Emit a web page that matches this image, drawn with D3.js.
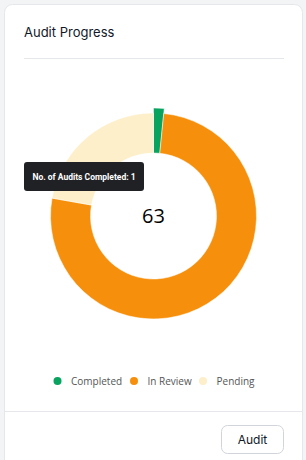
<!DOCTYPE html>
<html>
<head>
<meta charset="utf-8">
<script src="https://cdn.jsdelivr.net/npm/d3@7"></script>
<style>
	html, body { margin: 0; padding: 0; background: #f3f4f6; }
	svg { display: block; }
</style>
</head>
<body>
<script>
// chart data
const categories = ['Completed', 'In Review', 'Pending'];
const auditCounts = [1, 48, 14];
const sliceColors = ['#07a35f', '#f6900c', '#fdefca'];
const centerLabel = '63';
const tooltipLabel = 'No. of Audits Completed: 1';

const width = 306, height = 460;
const cx = 153.5, cy = 216;
const outerR = 103, innerR = 63;

const svg = d3.select('body').append('svg')
	.attr('width', width)
	.attr('height', height);

// card
svg.append('rect')
	.attr('x', 4.5).attr('y', 4.5)
	.attr('width', 298).attr('height', 470)
	.attr('rx', 8)
	.attr('fill', '#fff')
	.attr('stroke', '#e5e7eb');

svg.append('text')
	.attr('x', 24).attr('y', 37)
	.attr('font-family', 'Inter, sans-serif')
	.attr('font-size', 13)
	.attr('fill', '#111827')
	.text('Audit Progress');

svg.append('line')
	.attr('x1', 24).attr('x2', 284)
	.attr('y1', 58.5).attr('y2', 58.5)
	.attr('stroke', '#e5e7eb');

// donut
const pie = d3.pie().sort(null).value(d => d)(auditCounts);
const arc = d3.arc().innerRadius(innerR).outerRadius(outerR);
const arcHover = d3.arc().innerRadius(innerR).outerRadius(outerR + 5);

const g = svg.append('g').attr('transform', `translate(${cx},${cy})`);

g.selectAll('path')
	.data(pie)
	.enter()
	.append('path')
	.attr('d', (d, i) => i === 0 ? arcHover(d) : arc(d))
	.attr('fill', (d, i) => sliceColors[i])
	.attr('stroke', '#fff')
	.attr('stroke-width', 0.5);

g.append('text')
	.attr('text-anchor', 'middle')
	.attr('y', 7)
	.attr('font-family', 'Open Sans, sans-serif')
	.attr('font-size', 20)
	.attr('fill', '#000')
	.text(centerLabel);

// tooltip
const tip = svg.append('g').attr('transform', 'translate(24,162)');
tip.append('rect')
	.attr('width', 120).attr('height', 29)
	.attr('rx', 3)
	.attr('fill', '#202124');
tip.append('text')
	.attr('x', 60).attr('y', 18)
	.attr('text-anchor', 'middle')
	.attr('font-family', 'Roboto, sans-serif')
	.attr('font-size', 8.5)
	.attr('font-weight', 'bold')
	.attr('fill', '#fff')
	.text(tooltipLabel);

// legend
const legendX = [57.5, 134, 203];
const legend = svg.selectAll('g.legend')
	.data(categories)
	.enter()
	.append('g')
	.attr('class', 'legend')
	.attr('transform', (d, i) => `translate(${legendX[i]},381)`);

legend.append('circle')
	.attr('r', 4)
	.attr('fill', (d, i) => sliceColors[i]);

legend.append('text')
	.attr('x', 13.5).attr('y', 3.5)
	.attr('font-family', 'Open Sans, sans-serif')
	.attr('font-size', 10)
	.attr('fill', '#555')
	.text(d => d);

// footer
svg.append('line')
	.attr('x1', 4).attr('x2', 302)
	.attr('y1', 411.5).attr('y2', 411.5)
	.attr('stroke', '#e5e7eb');

svg.append('rect')
	.attr('x', 221.5).attr('y', 425.5)
	.attr('width', 62).attr('height', 28)
	.attr('rx', 6)
	.attr('fill', '#fff')
	.attr('stroke', '#d1d5db');

svg.append('text')
	.attr('x', 252.5).attr('y', 444)
	.attr('text-anchor', 'middle')
	.attr('font-family', 'Inter, sans-serif')
	.attr('font-size', 12)
	.attr('fill', '#111827')
	.text('Audit');
</script>
</body>
</html>
